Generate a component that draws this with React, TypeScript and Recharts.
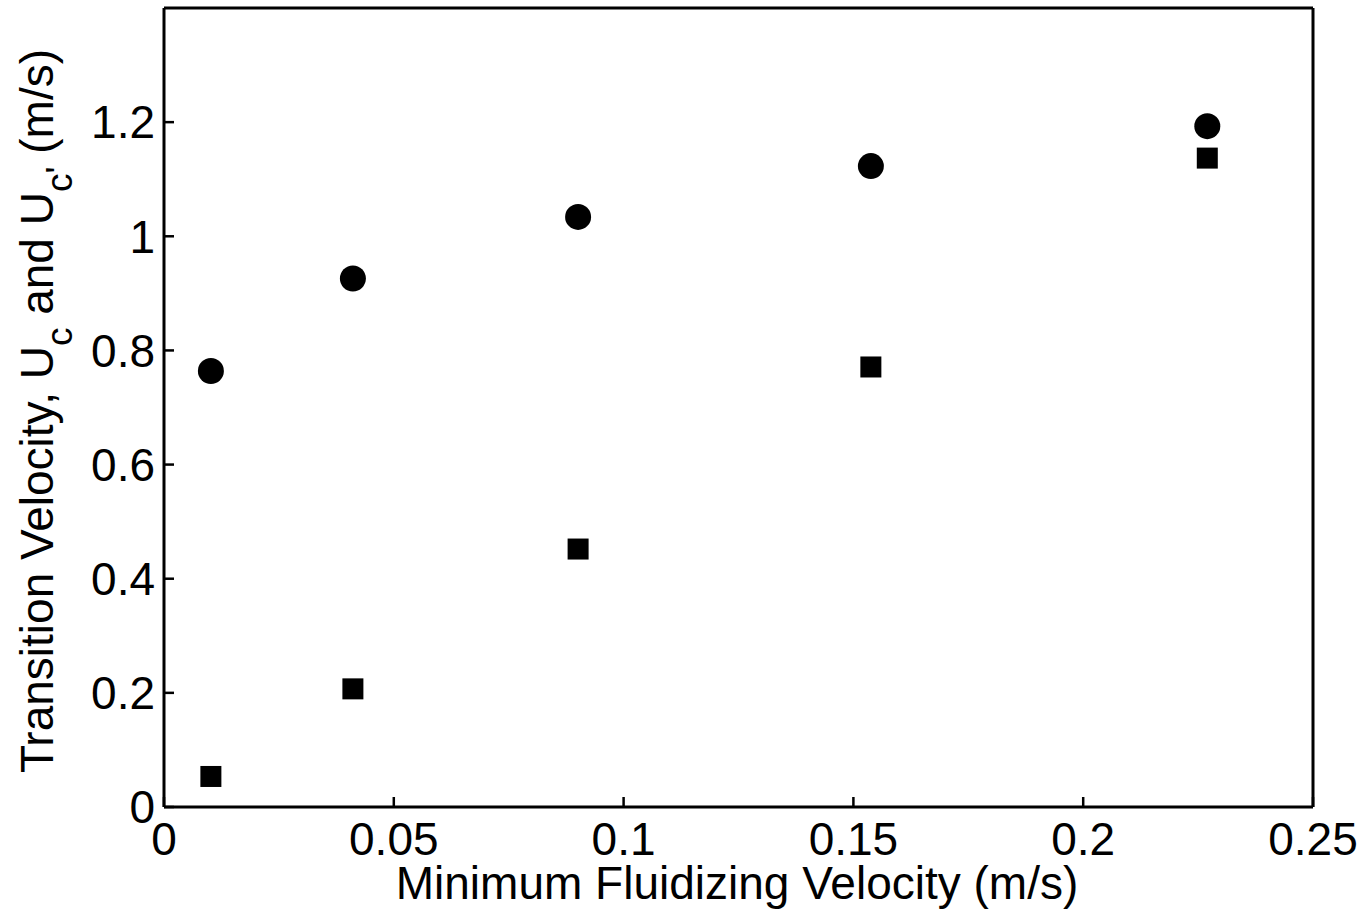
import { ScatterChart, Scatter, XAxis, YAxis } from "recharts"

// minimum fluidizing velocity (m/s) and transition velocities
const umf = [0.0102, 0.0411, 0.0901, 0.1538, 0.227]
const ucValues = [0.764, 0.926, 1.034, 1.123, 1.193]
const ucPrimeValues = [0.0535, 0.207, 0.452, 0.771, 1.137]

const xTicks = [0, 0.05, 0.1, 0.15, 0.2, 0.25]
const yTicks = [0, 0.2, 0.4, 0.6, 0.8, 1, 1.2]

const ucData = umf.map((x, i) => ({ x, y: ucValues[i] }))
const ucPrimeData = umf.map((x, i) => ({ x, y: ucPrimeValues[i] }))

const font = "'Liberation Sans', Arial, Helvetica, sans-serif"
const line = { stroke: "#000", strokeWidth: 3 }
const tickLine = { stroke: "#000", strokeWidth: 2.5 }
const tickText = { fill: "#000", fontSize: 46, fontFamily: font }

const XTitle = () => (
  <text x={737} y={899} textAnchor="middle" fontSize={46} fontFamily={font} fill="#000">
    Minimum Fluidizing Velocity (m/s)
  </text>
)

const YTitle = () => (
  <text transform="translate(53,411) rotate(-90)" x={0} y={0} textAnchor="middle" fontSize={46} fontFamily={font} fill="#000">
    <tspan>Transition Velocity, U</tspan>
    <tspan dy={19} fontSize={37}>c</tspan>
    <tspan dy={-19}> and U</tspan>
    <tspan dy={19} fontSize={37}>c'</tspan>
    <tspan dy={-19}> (m/s)</tspan>
  </text>
)

export default function App() {
  return (
    <div style={{ position: "absolute", left: 0, top: 0, background: "#fff" }}>
      <ScatterChart width={1368} height={915} margin={{ top: 0, right: 0, bottom: 0, left: 0 }}>
        <XAxis
          xAxisId="bottom"
          dataKey="x"
          type="number"
          domain={[0, 0.25]}
          ticks={xTicks}
          interval={0}
          height={108}
          axisLine={line}
          tickLine={tickLine}
          tickSize={-10}
          tickMargin={25}
          tick={tickText}
          tickFormatter={(v) => String(v)}
          label={{ content: () => <XTitle /> }}
        />
        <XAxis
          xAxisId="top"
          orientation="top"
          dataKey="x"
          type="number"
          domain={[0, 0.25]}
          ticks={xTicks}
          interval={0}
          height={8}
          axisLine={line}
          tickLine={tickLine}
          tickSize={-10}
          tick={false}
        />
        <YAxis
          yAxisId="left"
          dataKey="y"
          type="number"
          domain={[0, 1.4]}
          ticks={yTicks}
          interval={0}
          width={164}
          axisLine={line}
          tickLine={tickLine}
          tickSize={-10}
          tickMargin={19}
          tick={tickText}
          tickFormatter={(v) => String(v)}
          label={{ content: () => <YTitle /> }}
        />
        <YAxis
          yAxisId="right"
          orientation="right"
          dataKey="y"
          type="number"
          domain={[0, 1.4]}
          ticks={yTicks}
          interval={0}
          width={55}
          axisLine={line}
          tickLine={tickLine}
          tickSize={-10}
          tick={false}
        />
        <Scatter
          xAxisId="bottom"
          yAxisId="left"
          data={ucData}
          isAnimationActive={false}
          shape={(p: any) => <circle cx={p.cx} cy={p.cy} r={13} fill="#000" />}
        />
        <Scatter
          xAxisId="bottom"
          yAxisId="left"
          data={ucPrimeData}
          isAnimationActive={false}
          shape={(p: any) => <rect x={p.cx - 10.5} y={p.cy - 10.5} width={21} height={21} fill="#000" />}
        />
      </ScatterChart>
    </div>
  )
}
